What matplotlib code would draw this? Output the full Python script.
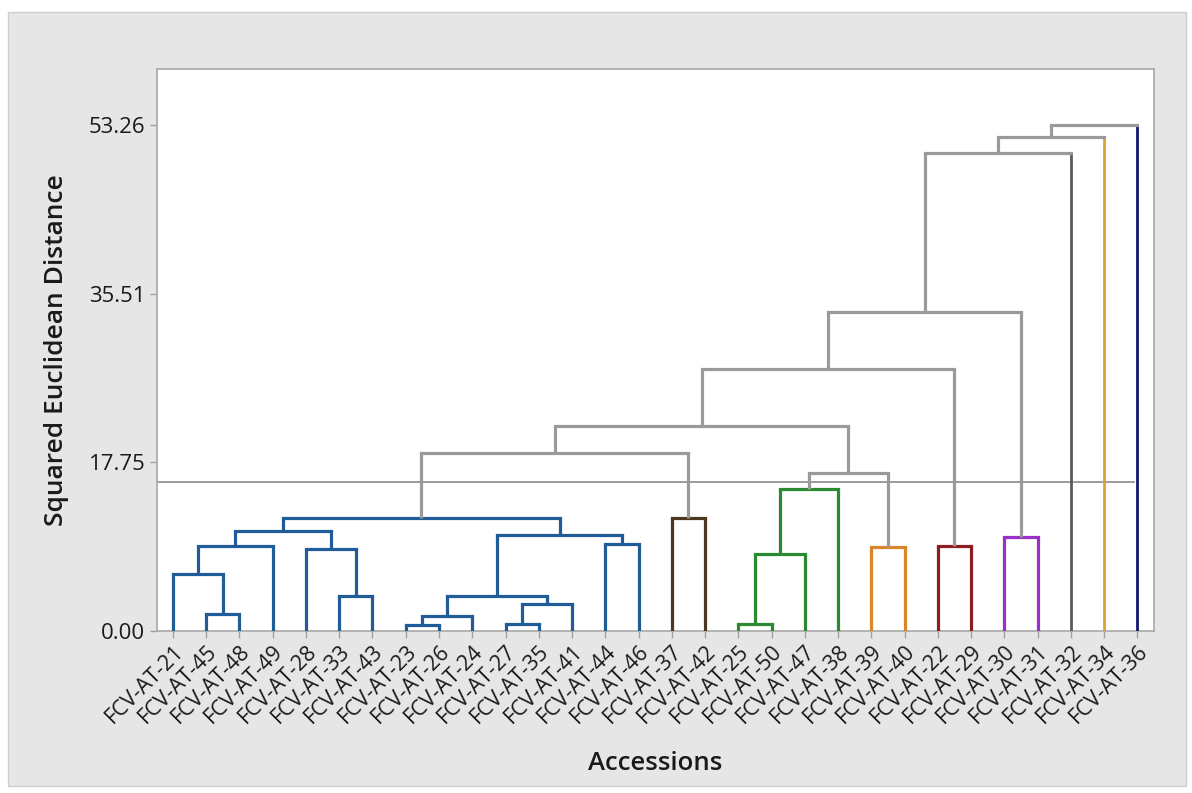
import matplotlib
matplotlib.use("Agg")
import matplotlib.pyplot as plt
from matplotlib.patches import Rectangle

plt.rcParams['font.family'] = ['Open Sans', 'DejaVu Sans']

# Leaves in dendrogram order
leaf_labels = ["FCV-AT-21", "FCV-AT-45", "FCV-AT-48", "FCV-AT-49", "FCV-AT-28",
               "FCV-AT-33", "FCV-AT-43", "FCV-AT-23", "FCV-AT-26", "FCV-AT-24",
               "FCV-AT-27", "FCV-AT-35", "FCV-AT-41", "FCV-AT-44", "FCV-AT-46",
               "FCV-AT-37", "FCV-AT-42", "FCV-AT-25", "FCV-AT-50", "FCV-AT-47",
               "FCV-AT-38", "FCV-AT-39", "FCV-AT-40", "FCV-AT-22", "FCV-AT-29",
               "FCV-AT-30", "FCV-AT-31", "FCV-AT-32", "FCV-AT-34", "FCV-AT-36"]

BLUE, BROWN, GREEN, ORANGE = "#1f5c99", "#4f3820", "#2a8a32", "#d9862a"
RED, PURPLE, GRAY = "#8b1f1f", "#9b30c8", "#9a9a9a"
DGRAY, GOLD, NAVY = "#5a5a5a", "#e0a030", "#15156e"

leaf_colors = [BLUE] * 15 + [BROWN] * 2 + [GREEN] * 4 + [ORANGE] * 2 + \
              [RED] * 2 + [PURPLE] * 2 + [DGRAY, GOLD, NAVY]

# Merges (node ids: leaves 0..29, merged nodes 30..)
merge_left = [1, 0, 31, 5, 4, 32, 7, 36, 10, 38, 37, 13, 40, 35, 15, 43,
              17, 46, 47, 21, 48, 45, 23, 51, 25, 53, 55, 56, 57]
merge_right = [2, 30, 3, 6, 33, 34, 8, 9, 11, 12, 39, 14, 41, 42, 16, 44,
               18, 19, 20, 22, 49, 50, 24, 52, 26, 54, 27, 28, 29]
merge_height = [1.80, 6.00, 9.00, 3.70, 8.60, 10.56, 0.67, 1.58, 0.70, 2.85,
                3.70, 9.20, 10.07, 11.90, 11.85, 18.76, 0.70, 8.10, 15.00,
                8.84, 16.65, 21.57, 8.98, 27.60, 9.85, 33.60, 50.30, 52.00, 53.26]
merge_color = [BLUE] * 14 + [BROWN, GRAY, GREEN, GREEN, GREEN, ORANGE, GRAY,
               GRAY, RED, GRAY, PURPLE, GRAY, GRAY, GRAY, GRAY]

cut_height = 15.66
ytick_values = [0.00, 17.75, 35.51, 53.26]

fig = plt.figure(figsize=(11.92, 7.93), dpi=100)
fig.patch.set_facecolor("white")
fig.patches.append(Rectangle((8 / 1192, 1 - 786 / 793), 1178 / 1192, 774 / 793,
                             transform=fig.transFigure, facecolor="#e6e6e6",
                             edgecolor="#cfcfcf", linewidth=1.0, zorder=-10))

ax = fig.add_axes([157 / 1192, 1 - 631 / 793, 997 / 1192, 562 / 793])
ax.set_zorder(5)
ax.set_facecolor("white")

n = len(leaf_labels)
xpos = {i: float(i) for i in range(n)}
hgt = {i: 0.0 for i in range(n)}
lw = 2.3
for k, (a, b, h, c) in enumerate(zip(merge_left, merge_right, merge_height, merge_color)):
    node = n + k
    xa, xb = xpos[a], xpos[b]
    ca = leaf_colors[a] if a < n else c
    cb = leaf_colors[b] if b < n else c
    la = 2.0 if (a < n and leaf_colors[a] in (DGRAY, GOLD, NAVY)) else lw
    lb = 2.0 if (b < n and leaf_colors[b] in (DGRAY, GOLD, NAVY)) else lw
    ax.plot([xa, xa], [hgt[a], h], color=ca, lw=la, solid_capstyle='butt', zorder=3)
    ax.plot([xb, xb], [hgt[b], h], color=cb, lw=lb, solid_capstyle='butt', zorder=3)
    ax.plot([xa, xb], [h, h], color=c, lw=lw, solid_capstyle='projecting', zorder=3)
    xpos[node] = (xa + xb) / 2
    hgt[node] = h

ax.plot([-0.48, n - 1.1], [cut_height, cut_height], color="#8a8a8a", lw=1.2, zorder=2)

ax.set_xlim(-0.48, n - 0.5)
ax.set_ylim(0, 59.16)
ax.set_yticks(ytick_values)
ax.set_yticklabels([f"{v:.2f}" for v in ytick_values], fontsize=16, color="#1a1a1a")
ax.set_xticks(range(n))
ax.set_xticklabels(leaf_labels, rotation=45, ha="right", va="top",
                   rotation_mode="anchor", fontsize=15.5, color="#1a1a1a")
ax.tick_params(axis="both", direction="out", length=5, color="#a0a0a0", width=1)
ax.tick_params(axis="x", pad=2)
for s in ax.spines.values():
    s.set_color("#a8a8a8")
    s.set_linewidth(1.2)

ax.set_ylabel("Squared Euclidean Distance", fontsize=19, fontweight="semibold",
              color="#1a1a1a", labelpad=14)
ax.set_xlabel("Accessions", fontsize=18.5, fontweight="semibold", color="#1a1a1a",
              labelpad=17)

fig.savefig("out.png", dpi=100, facecolor=fig.get_facecolor())
